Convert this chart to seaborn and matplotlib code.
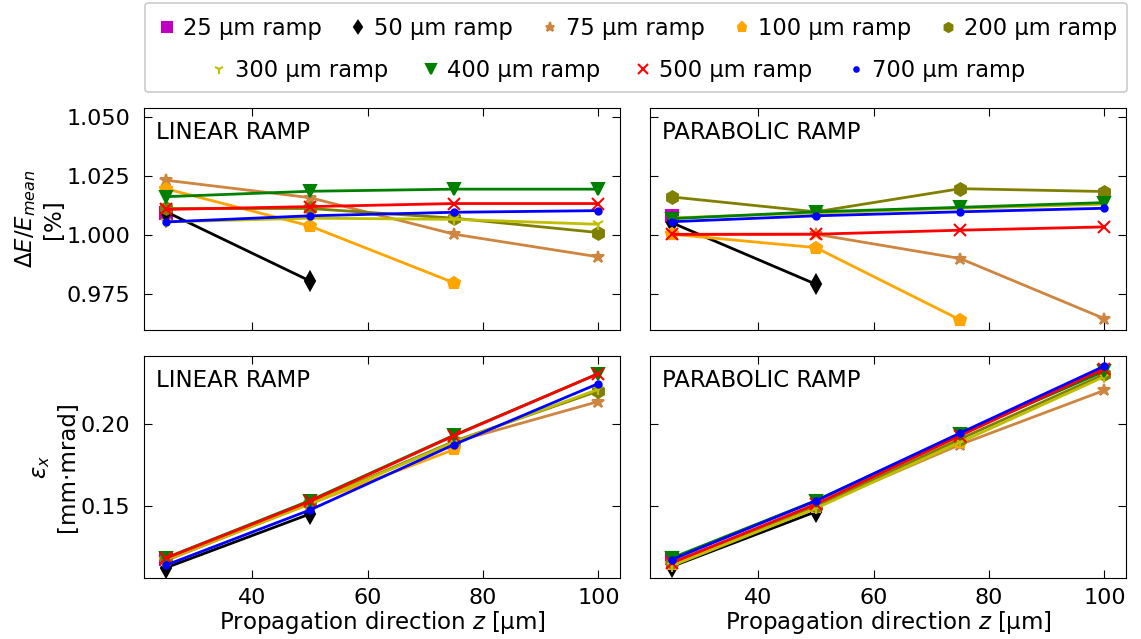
import numpy as np
import pandas as pd
import matplotlib
matplotlib.use("Agg")
import matplotlib.pyplot as plt
from matplotlib.lines import Line2D
from matplotlib.patches import FancyBboxPatch
from matplotlib.ticker import MultipleLocator
import seaborn as sns

# z positions
z = [25, 50, 75, 100]

ramps = ["25 µm ramp", "50 µm ramp", "75 µm ramp", "100 µm ramp", "200 µm ramp",
         "300 µm ramp", "400 µm ramp", "500 µm ramp", "700 µm ramp"]
colors = ["m", "k", "peru", "orange", "olive", "y", "green", "red", "blue"]
markers = ["s", "d", "*", "p", "h", "1", "v", "x", "."]

# energy spread, linear ramp
de_linear = [
    [1.0095],
    [1.0099, 0.9805],
    [1.0232, 1.0158, 1.0003, 0.9907],
    [1.0196, 1.0038, 0.9797],
    [1.0112, 1.0112, 1.0071, 1.0010],
    [1.0055, 1.0071, 1.0066, 1.0045],
    [1.0162, 1.0185, 1.0194, 1.0194],
    [1.0108, 1.0120, 1.0133, 1.0133],
    [1.0055, 1.0081, 1.0096, 1.0103],
]
# energy spread, parabolic ramp
de_parabolic = [
    [1.0081],
    [1.0052, 0.9791],
    [1.0003, 1.0003, 0.9900, 0.9645],
    [1.0003, 0.9946, 0.9640],
    [1.0161, 1.0098, 1.0196, 1.0184],
    [1.0072, 1.0093, 1.0113, 1.0130],
    [1.0069, 1.0098, 1.0117, 1.0137],
    [1.0002, 1.0003, 1.0020, 1.0034],
    [1.0056, 1.0081, 1.0098, 1.0113],
]
# emittance, linear ramp
em_linear = [
    [0.1180],
    [0.1127, 0.1454],
    [0.1170, 0.1520, 0.1890, 0.2136],
    [0.1175, 0.1515, 0.1845],
    [0.1180, 0.1520, 0.1895, 0.2200],
    [0.1178, 0.1515, 0.1890, 0.2210],
    [0.1187, 0.1535, 0.1932, 0.2305],
    [0.1185, 0.1530, 0.1929, 0.2305],
    [0.1143, 0.1478, 0.1875, 0.2245],
]
# emittance, parabolic ramp
em_parabolic = [
    [0.1187],
    [0.1135, 0.1468],
    [0.1150, 0.1500, 0.1875, 0.2204],
    [0.1150, 0.1495, 0.1890],
    [0.1160, 0.1500, 0.1909, 0.2301],
    [0.1139, 0.1488, 0.1889, 0.2287],
    [0.1187, 0.1535, 0.1940, 0.2320],
    [0.1157, 0.1514, 0.1929, 0.2335],
    [0.1177, 0.1534, 0.1945, 0.2351],
]

FS = 16.5

fig, axes = plt.subplots(2, 2, figsize=(11.41, 6.39), dpi=100, sharex=True, sharey="row")
fig.subplots_adjust(left=0.1262, right=0.9869, top=0.831, bottom=0.0955, wspace=0.063, hspace=0.117)

panels = [(axes[0, 0], de_linear, "LINEAR RAMP"),
          (axes[0, 1], de_parabolic, "PARABOLIC RAMP"),
          (axes[1, 0], em_linear, "LINEAR RAMP"),
          (axes[1, 1], em_parabolic, "PARABOLIC RAMP")]

for ax, vals, title in panels:
    for name, c, mk, v in zip(ramps, colors, markers, vals):
        sns.lineplot(x=z[:len(v)], y=v, color=c, marker=mk, markersize=9,
                     markeredgecolor=c, markeredgewidth=1.5, linewidth=2, ax=ax)
    ax.text(0.025, 0.94, title, transform=ax.transAxes, ha="left", va="top", fontsize=FS)
    ax.tick_params(direction="in", top=True, right=True, labelsize=16, length=6)
    ax.tick_params(axis="y", pad=10)
    ax.tick_params(axis="x", pad=7)

axes[0, 0].set_ylim(0.9597, 1.0538)
axes[0, 0].yaxis.set_major_locator(MultipleLocator(0.025))
axes[1, 0].yaxis.set_major_locator(MultipleLocator(0.05))
axes[1, 0].xaxis.set_major_locator(MultipleLocator(20))

axes[0, 0].set_ylabel("$\\Delta E/E_{mean}$\n[%]", fontsize=FS, labelpad=1)
axes[1, 0].set_ylabel("$\\varepsilon_x$\n[mm·mrad]", fontsize=FS, labelpad=1)
axes[1, 0].set_xlabel("Propagation direction $z$ [µm]", fontsize=FS, labelpad=1)
axes[1, 1].set_xlabel("Propagation direction $z$ [µm]", fontsize=FS, labelpad=1)

# legend: two rows, markers only
handles = [Line2D([], [], linestyle="none", marker=mk, color=c, markeredgecolor=c,
                  markersize=6.5, markeredgewidth=1.5, label=r)
           for r, c, mk in zip(ramps, colors, markers)]
W, H = fig.get_size_inches() * fig.dpi
leg_kw = dict(frameon=False, fontsize=16.3, handlelength=0.5, handletextpad=0.46,
              borderaxespad=0, borderpad=0)
fig.legend(handles=handles[:5], ncol=5, loc="center", bbox_to_anchor=(639 / W, 1 - 28 / H),
           columnspacing=1.37, **leg_kw)
fig.legend(handles=handles[5:], ncol=4, loc="center", bbox_to_anchor=(619 / W, 1 - 70 / H),
           columnspacing=1.65, **leg_kw)
frame = FancyBboxPatch((145 / W, 1 - 92 / H), (1127 - 145) / W, 89 / H,
                       boxstyle="round,pad=0,rounding_size=0.004", transform=fig.transFigure,
                       facecolor="white", edgecolor="0.8", linewidth=1.2, zorder=-1)
fig.patches.append(frame)

fig.savefig("out.png", dpi=100)
